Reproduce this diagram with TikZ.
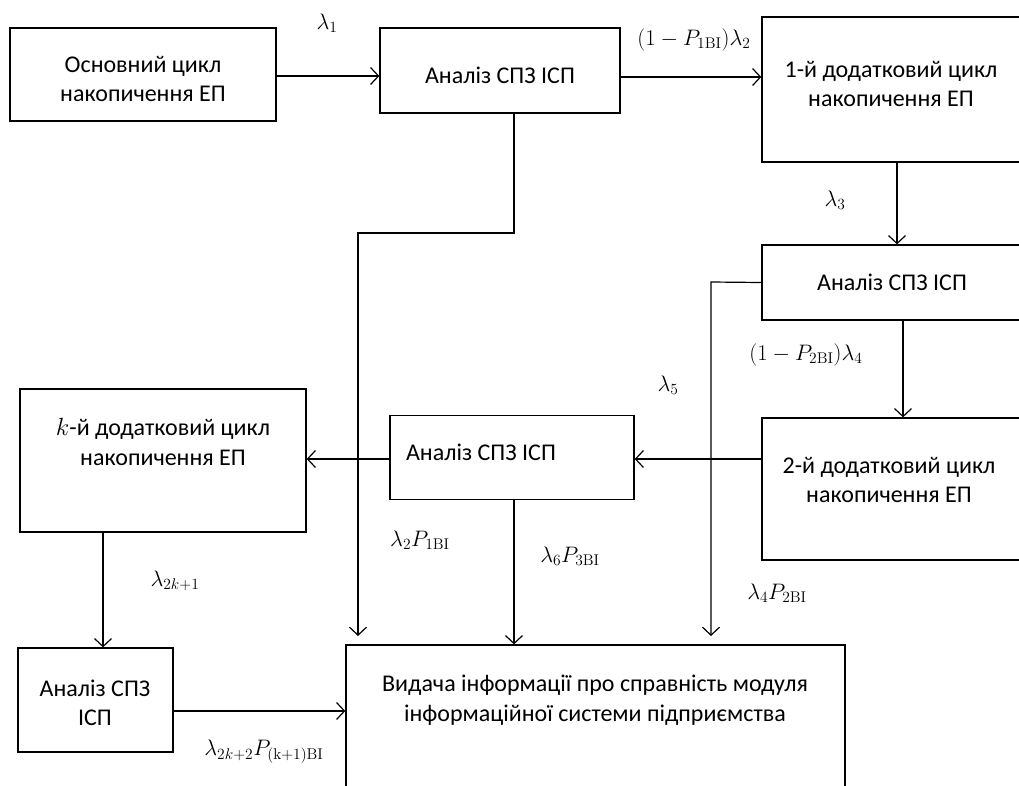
\documentclass[tikz,border=0pt]{standalone}
\usepackage{graphicx}
\usepackage[no-math]{fontspec}
\setmainfont{Carlito}
\usetikzlibrary{arrows.meta}
\newcommand{\mlbl}[1]{\scalebox{1.08}{$#1$}}
\begin{document}
\begin{tikzpicture}[x=1pt,y=-1pt,
  box/.style={draw, line width=1.3pt, inner sep=0pt},
  txt/.style={font=\fontsize{24}{29.5}\selectfont, align=center, inner sep=0pt},
  lbl/.style={font=\fontsize{20.74}{25}\selectfont, inner sep=0pt},
  arr/.style={line width=1.2pt, -{Straight Barb[length=8pt,width=17pt]}},
  ln/.style={line width=1.2pt}]
\useasboundingbox (0,0) rectangle (1019,785);
% boxes
\node[box, minimum width=266pt, minimum height=93pt] (b1) at (143,74.5) {};
\node[box, minimum width=240pt, minimum height=85pt] (a1) at (500,70.5) {};
\node[box, minimum width=278pt, minimum height=145pt] (c1) at (901,89.5) {};
\node[box, minimum width=278pt, minimum height=75pt] (a2) at (901,282.5) {};
\node[box, minimum width=278pt, minimum height=142pt] (c2) at (901,489) {};
\node[box, minimum width=244pt, minimum height=84pt] (a3) at (512,457.5) {};
\node[box, minimum width=286pt, minimum height=143pt] (ck) at (163,460.5) {};
\node[box, minimum width=155pt, minimum height=104pt] (a4) at (95.5,700) {};
\node[box, minimum width=499pt, minimum height=160pt] (out) at (595.5,725) {};
% texts
\node[txt] (t1) at (143,79) {Основний цикл\\накопичення ЕП};
\node[txt] (t2) at (500,75) {Аналіз СПЗ ІСП};
\node[txt] (t3) at (891,84) {1-й додатковий цикл\\накопичення ЕП};
\node[txt] (t4) at (892,282) {Аналіз СПЗ ІСП};
\node[txt] (t5) at (889,480) {2-й додатковий цикл\\накопичення ЕП};
\node[txt] (t6) at (481,452) {Аналіз СПЗ ІСП};
\node[txt] (t7) at (163,442) {$k$-й додатковий цикл\\накопичення ЕП};
\node[txt] (t8) at (95,703) {Аналіз СПЗ\\ІСП};
\node[txt] (t9) at (595,700) {Видача інформації про справність модуля\\інформаційної системи підприємства};
% coordinates
\coordinate (j1) at (514,233);
\coordinate (j2) at (358,233);
\coordinate (j3) at (711,282);
% connectors
\draw[arr] (b1.east |- 0,76) -- (a1.west |- 0,76);
\draw[arr] (a1.east |- 0,77) -- (c1.west |- 0,77);
\draw[arr] (c1.south -| 897,0) -- (a2.north -| 897,0);
\draw[arr] (a2.south -| 903,0) -- (c2.north -| 903,0);
\draw[arr] (a2.west) -- (j3) -- (j3 |- 0,636);
\draw[arr] (c2.west |- 0,459) -- (a3.east |- 0,459);
\draw[arr] (a3.west |- 0,459) -- (ck.east |- 0,459);
\draw[arr] (a1.south -| j1) -- (j1) -- (j2) -- (j2 |- 0,636);
\draw[arr] (a3.south -| 514,0) -- (out.north -| 514,0);
\draw[arr] (ck.south -| 103,0) -- (a4.north -| 103,0);
\draw[arr] (a4.east |- 0,711) -- (out.west |- 0,711);
% labels
\node[lbl] (l1) at (327,23) {\mlbl{\lambda_1}};
\node[lbl] (l2) at (694,40) {\mlbl{(1-P_{1\mathrm{BI}})\lambda_2}};
\node[lbl] (l3) at (835,200) {\mlbl{\lambda_3}};
\node[lbl] (l4) at (806,355) {\mlbl{(1-P_{2\mathrm{BI}})\lambda_4}};
\node[lbl] (l5) at (668,385) {\mlbl{\lambda_5}};
\node[lbl] (l6) at (420,540) {\mlbl{\lambda_2P_{1\mathrm{BI}}}};
\node[lbl] (l7) at (570,556) {\mlbl{\lambda_6P_{3\mathrm{BI}}}};
\node[lbl] (l8) at (777,593) {\mlbl{\lambda_4P_{2\mathrm{BI}}}};
\node[lbl] (l9) at (175,581) {\mlbl{\lambda_{2k+1}}};
\node[lbl] (l10) at (264,752) {\mlbl{\lambda_{2k+2}P_{(\mathrm{k+1})\mathrm{BI}}}};
\end{tikzpicture}
\end{document}
